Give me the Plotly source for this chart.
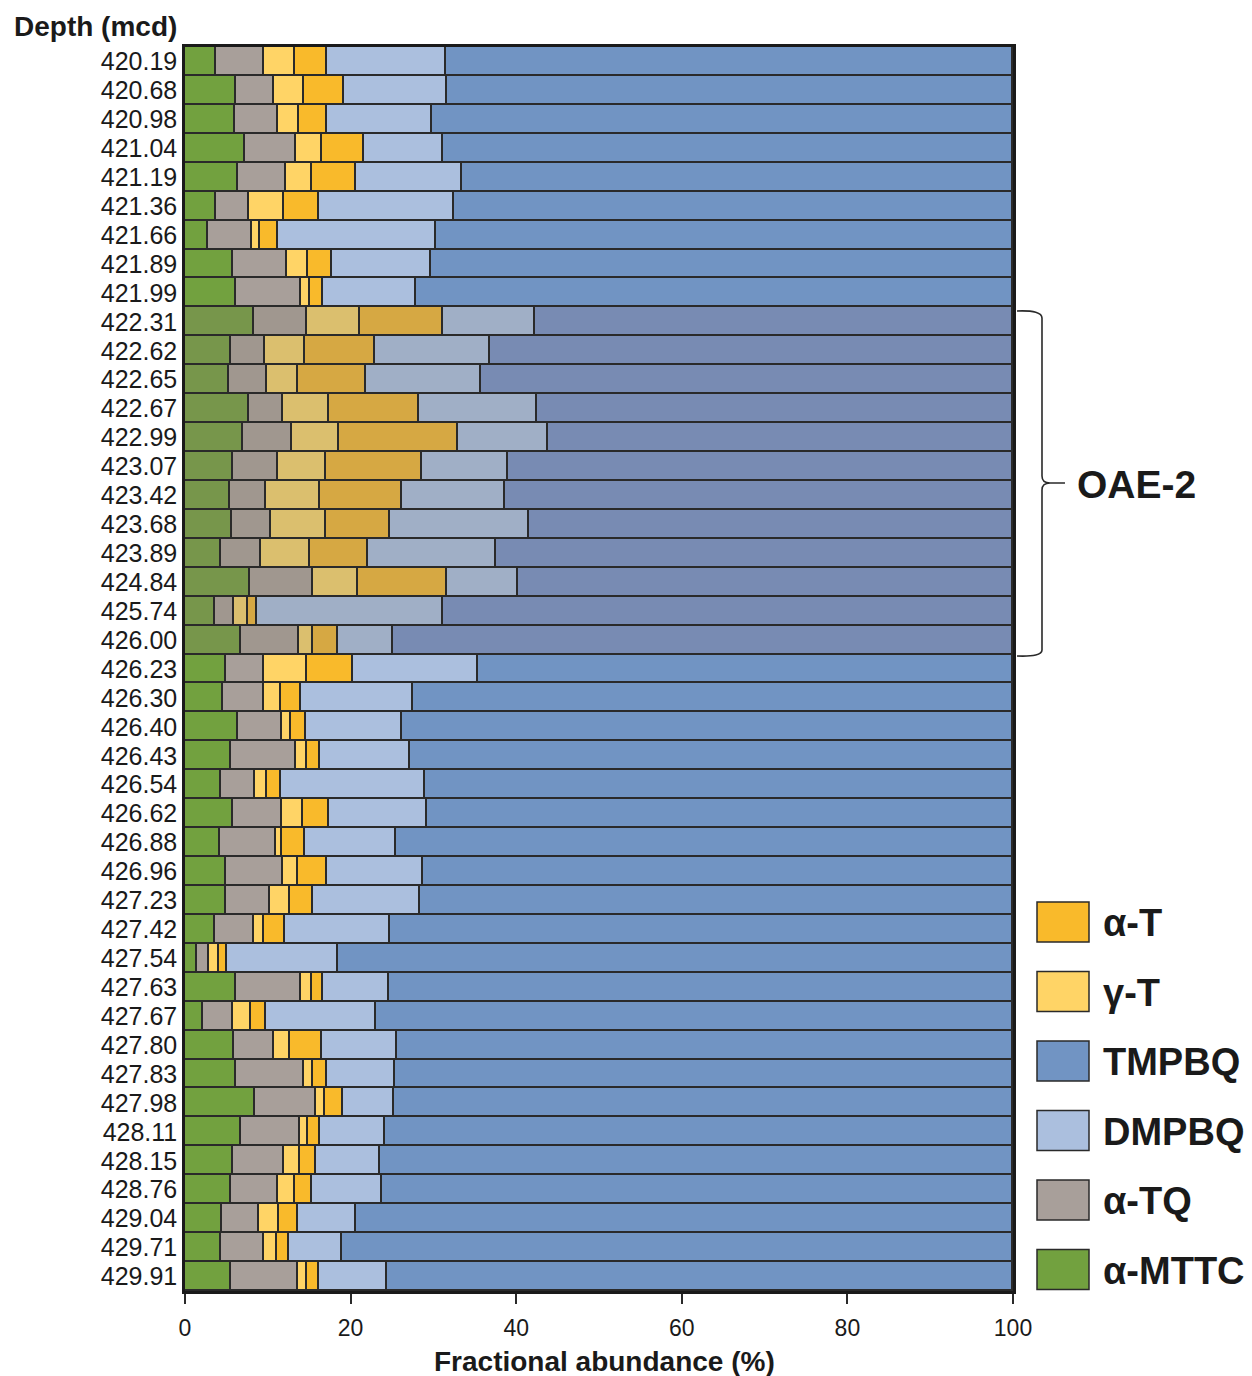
import plotly.graph_objects as go

depths = ["420.19", "420.68", "420.98", "421.04", "421.19", "421.36", "421.66", "421.89", "421.99",
          "422.31", "422.62", "422.65", "422.67", "422.99", "423.07", "423.42", "423.68", "423.89",
          "424.84", "425.74", "426.00", "426.23", "426.30", "426.40", "426.43", "426.54", "426.62",
          "426.88", "426.96", "427.23", "427.42", "427.54", "427.63", "427.67", "427.80", "427.83",
          "427.98", "428.11", "428.15", "428.76", "429.04", "429.71", "429.91"]

oae2_depths = ["422.31", "422.62", "422.65", "422.67", "422.99", "423.07", "423.42", "423.68",
               "423.89", "424.84", "425.74", "426.00"]

a_mttc = [3.8, 6.2, 6.0, 7.3, 6.4, 3.7, 2.8, 5.8, 6.1,
          8.3, 5.6, 5.3, 7.7, 7.0, 5.8, 5.4, 5.7, 4.4, 7.9, 3.6, 6.8,
          5.0, 4.6, 6.4, 5.6, 4.3, 5.8, 4.2, 4.9, 4.9, 3.6, 1.5, 6.2, 2.2, 5.9, 6.2,
          8.4, 6.8, 5.8, 5.6, 4.5, 4.3, 5.6]
a_tq = [5.7, 4.6, 5.2, 6.1, 5.8, 4.0, 5.3, 6.5, 7.9,
        6.4, 4.1, 4.6, 4.1, 5.9, 5.4, 4.4, 4.7, 4.8, 7.6, 2.3, 7.0,
        4.5, 4.9, 5.3, 7.8, 4.2, 5.9, 6.8, 6.9, 5.4, 4.7, 1.4, 7.8, 3.6, 4.9, 8.2,
        7.4, 7.1, 6.2, 5.6, 4.4, 5.3, 8.1]
g_t = [3.8, 3.6, 2.6, 3.2, 3.1, 4.2, 1.0, 2.5, 1.1,
       6.4, 4.8, 3.8, 5.6, 5.7, 5.8, 6.5, 6.6, 5.9, 5.4, 1.7, 1.7,
       5.2, 2.1, 1.1, 1.3, 1.4, 2.5, 0.7, 1.9, 2.4, 1.3, 1.2, 1.3, 2.2, 1.9, 1.0,
       1.1, 0.9, 1.9, 2.1, 2.4, 1.5, 1.0]
a_t = [3.9, 4.8, 3.4, 5.0, 5.3, 4.3, 2.1, 3.0, 1.6,
       10.1, 8.5, 8.1, 10.9, 14.4, 11.6, 9.9, 7.8, 7.0, 10.8, 1.1, 3.0,
       5.6, 2.4, 1.8, 1.6, 1.7, 3.2, 2.8, 3.4, 2.8, 2.5, 1.0, 1.4, 1.8, 3.8, 1.7,
       2.2, 1.5, 1.9, 2.0, 2.4, 1.4, 1.5]
dmpbq = [14.3, 12.5, 12.6, 9.6, 12.8, 16.3, 19.1, 11.9, 11.2,
         11.1, 13.8, 14.0, 14.2, 10.8, 10.4, 12.5, 16.8, 15.4, 8.5, 22.4, 6.6,
         15.1, 13.5, 11.6, 10.9, 17.4, 11.8, 11.0, 11.6, 12.9, 12.7, 13.4, 7.9, 13.3, 9.1, 8.3,
         6.1, 7.9, 7.7, 8.5, 6.9, 6.5, 8.2]
tmpbq = [68.5, 68.3, 70.2, 68.8, 66.6, 67.5, 69.7, 70.3, 72.1,
         57.7, 63.2, 64.2, 57.5, 56.2, 61.0, 61.3, 58.4, 62.5, 59.8, 68.9, 74.9,
         64.6, 72.5, 73.8, 72.8, 71.0, 70.8, 74.5, 71.3, 71.6, 75.2, 81.5, 75.4, 76.9, 74.4, 74.6,
         74.8, 75.8, 76.5, 76.2, 79.4, 81.0, 75.6]

series_names = ["α-MTTC", "α-TQ", "γ-T", "α-T", "DMPBQ", "TMPBQ"]
series_values = [a_mttc, a_tq, g_t, a_t, dmpbq, tmpbq]
normal_colors = ["#72A13F", "#A89F9A", "#FFD466", "#F9BA2B", "#ABBFDE", "#7194C3"]
oae_colors = ["#77964B", "#A0978F", "#DBBF6E", "#D6A843", "#A0AFC6", "#788BB3"]

legend_order = ["α-T", "γ-T", "TMPBQ", "DMPBQ", "α-TQ", "α-MTTC"]

# plot area in pixels
L, R, T, B = 185, 1013, 47, 1291
W, H = 1252, 1376


def px(x):
    return (x - L) / (R - L)


def py(y):
    return (B - y) / (B - T)


fig = go.Figure()
for name, vals, nc, oc in zip(series_names, series_values, normal_colors, oae_colors):
    cols = [oc if d in oae2_depths else nc for d in depths]
    fig.add_trace(go.Bar(
        x=vals, y=depths, orientation="h", name=name,
        marker=dict(color=cols, line=dict(color="#2a2a2a", width=1.6)),
        showlegend=False,
    ))

shapes = []
annotations = []
FONT = "Liberation Sans, Arial"

# legend swatches
leg_tops = [902, 971.5, 1041, 1110.5, 1180, 1249.5]
for name, top in zip(legend_order, leg_tops):
    idx = series_names.index(name)
    shapes.append(dict(type="rect", xref="paper", yref="paper",
                       x0=px(1037), x1=px(1089), y0=py(top), y1=py(top + 40),
                       fillcolor=normal_colors[idx], line=dict(color="#2a2a2a", width=1.5)))
    annotations.append(dict(text="<b>" + name + "</b>", xref="paper", yref="paper",
                            x=px(1101), y=py(top + 21),
                            xanchor="left", yanchor="middle", showarrow=False,
                            font=dict(family=FONT, size=38, color="#1a1a1a")))

# OAE-2 brace
def P(x, y):
    return f"{px(x):.5f},{py(y):.5f}"

brace = ("M " + P(1017, 311) + " Q " + P(1042, 310) + " " + P(1042, 318) +
         " L " + P(1042, 476) + " Q " + P(1042, 483) + " " + P(1050, 483) +
         " L " + P(1065, 483) + " M " + P(1050, 483) + " Q " + P(1042, 483) + " " + P(1042, 490) +
         " L " + P(1042, 650) + " Q " + P(1042, 657) + " " + P(1017, 656))
shapes.append(dict(type="path", xref="paper", yref="paper", path=brace,
                   line=dict(color="#2a2a2a", width=1.6)))
annotations.append(dict(text="<b>OAE-2</b>", xref="paper", yref="paper", x=px(1075), y=py(484),
                        xanchor="left", yanchor="middle", showarrow=False,
                        font=dict(family=FONT, size=39, color="#1a1a1a")))

annotations.append(dict(text="<b>Depth (mcd)</b>", xref="paper", yref="paper", x=px(12), y=py(27),
                        xanchor="left", yanchor="middle", showarrow=False,
                        font=dict(family=FONT, size=28, color="#1a1a1a")))

annotations.append(dict(text="<b>Fractional abundance (%)</b>", xref="paper", yref="paper",
                        x=px(604), y=py(1361), xanchor="center", yanchor="middle", showarrow=False,
                        font=dict(family=FONT, size=28, color="#1a1a1a")))

fig.update_layout(
    width=W, height=H,
    margin=dict(l=L, r=W - R, t=T, b=H - B),
    barmode="stack", bargap=0,
    plot_bgcolor="white", paper_bgcolor="white",
    font=dict(family=FONT, color="#1a1a1a"),
    shapes=shapes, annotations=annotations,
    xaxis=dict(range=[0, 100], tickvals=[0, 20, 40, 60, 80, 100], ticks="outside", ticklen=10,
               tickwidth=1.5, tickcolor="#2a2a2a", showgrid=False, zeroline=False,
               showline=True, linecolor="#1a1a1a", linewidth=2.5, mirror=True,
               ticklabelstandoff=5,
               tickfont=dict(size=23, color="#1a1a1a"), automargin=False),
    yaxis=dict(categoryorder="array", categoryarray=depths, autorange="reversed",
               tickmode="array", tickvals=depths, ticktext=depths,
               showgrid=False, zeroline=False, ticks="", showline=True, linecolor="#1a1a1a",
               linewidth=2.5, mirror=True, ticklabelstandoff=0, automargin=False,
               tickfont=dict(size=25, color="#1a1a1a")),
)

fig.write_html("out.html")
